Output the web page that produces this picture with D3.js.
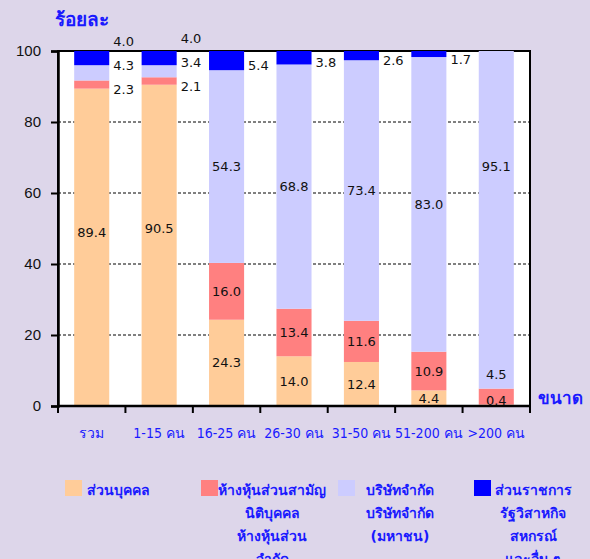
<!DOCTYPE html>
<html>
<head>
<meta charset="utf-8">
<title>ร้อยละ ตามขนาด</title>
<script src="https://cdn.jsdelivr.net/npm/d3@7"></script>
<style>
body { margin: 0; background: #ddd6ea; }
svg { display: block; font-family: Tahoma, "DejaVu Sans", "Noto Sans", sans-serif; }
.val { font-size: 13px; fill: #111; }
.thai { fill: #1a1aff; font-weight: bold; }
.axis text { font-size: 15px; fill: #111; }
.axis text.cl { fill: #1a1aff; font-weight: normal; font-size: 14px; font-family: "DejaVu Sans Condensed", "Noto Sans", sans-serif; }
</style>
</head>
<body>
<script>
// categories (size of establishment)
var categories = ["รวม", "1-15 คน", "16-25 คน", "26-30 คน", "31-50 คน", "51-200 คน", ">200 คน"];

// series values, percent
var personal   = [89.4, 90.5, 24.3, 14.0, 12.4, 4.4, 0.4];
var partnership = [2.3, 2.1, 16.0, 13.4, 11.6, 10.9, 4.5];
var company    = [4.3, 3.4, 54.3, 68.8, 73.4, 83.0, 95.1];
var government = [4.0, 4.0, 5.4, 3.8, 2.6, 1.7, 0];

var seriesNames = [
  ["ส่วนบุคคล"],
  ["ห้างหุ้นส่วนสามัญ", "นิติบุคคล", "ห้างหุ้นส่วน", "จำกัด"],
  ["บริษัทจำกัด", "บริษัทจำกัด", "(มหาชน)"],
  ["ส่วนราชการ", "รัฐวิสาหกิจ", "สหกรณ์", "และอื่น ๆ"]
];
var colors = ["#ffcc99", "#ff8080", "#ccccff", "#0000ff"];
var yTicks = [0, 20, 40, 60, 80, 100];

// a few labels were moved by hand in the original
var labelNudge = { "0-0": -15, "0-1": -17, "2-6": -53 };

var W = 590, H = 559;
var svg = d3.select("body").append("svg").attr("width", W).attr("height", H);

var x = d3.scaleBand().domain(categories).range([58, 530]).paddingInner(0.48).paddingOuter(0.24);
var y = d3.scaleLinear().domain([0, 100]).range([406, 51]);

// plot area
svg.append("rect").attr("x", 58).attr("y", 51).attr("width", 472).attr("height", 355)
  .attr("fill", "#fff").attr("stroke", "#000").attr("stroke-width", 2);

// dashed gridlines
svg.append("g").selectAll("line").data([20, 40, 60, 80]).join("line")
  .attr("x1", 58).attr("x2", 530).attr("y1", d => y(d)).attr("y2", d => y(d))
  .attr("stroke", "#000").attr("stroke-width", 1).attr("stroke-dasharray", "3,2");

var table = categories.map(function (c, i) {
  return { cat: c, s0: personal[i], s1: partnership[i], s2: company[i], s3: government[i] };
});
var stack = d3.stack().keys(["s0", "s1", "s2", "s3"])(table);

stack.forEach(function (layer, k) {
  svg.append("g").attr("fill", colors[k]).selectAll("rect").data(layer).join("rect")
    .attr("x", d => x(d.data.cat))
    .attr("width", x.bandwidth())
    .attr("y", d => y(d[1]))
    .attr("height", d => y(d[0]) - y(d[1]));
});

// axes
var yAxis = svg.append("g").attr("class", "axis").attr("transform", "translate(58,0)")
  .call(d3.axisLeft(y).tickValues(yTicks).tickSize(7).tickPadding(10));
var xAxis = svg.append("g").attr("class", "axis").attr("transform", "translate(0,406)");
xAxis.append("line").attr("x1", 58).attr("x2", 531).attr("stroke", "#000").attr("stroke-width", 2.5);
var bounds = categories.map(c => x(c) - x.step() * x.paddingInner() / 2);
bounds[0] = 58; bounds.push(530);
xAxis.selectAll(".tk").data(bounds).join("line").attr("class", "tk")
  .attr("x1", d => d).attr("x2", d => d).attr("y1", 0).attr("y2", 7)
  .attr("stroke", "#000").attr("stroke-width", 2);
yAxis.select(".domain").attr("stroke-width", 2.5);
yAxis.selectAll(".tick line").attr("stroke-width", 2);

xAxis.selectAll(".cl").data(categories).join("text").attr("class", "cl")
  .attr("x", d => x(d) + x.bandwidth() / 2).attr("y", 32)
  .attr("text-anchor", "middle").text(d => d);

// value labels
var labels = [];
categories.forEach(function (c, i) {
  var last = i === categories.length - 1;
  var outside = [];
  stack.forEach(function (layer, k) {
    var d = layer[i], v = d[1] - d[0];
    if (v <= 0) return;
    var cx = x(c) + x.bandwidth() / 2, cy = y((d[0] + d[1]) / 2);
    if (v < 6 && k > 0 && !last) {
      outside.push({ v: v, cy: cy + 5 });
    } else if (v < 6 && k > 0 && last) {
      labels.push({ v: v, x: cx, y: y(d[1]) - 14 });
    } else {
      labels.push({ v: v, x: cx, y: Math.min(cy, 400) + (labelNudge[k + "-" + i] || 0) });
    }
  });
  // spread right-hand labels so they do not overlap
  var prev = Infinity;
  outside.forEach(function (o) {
    var yy = Math.min(o.cy, prev - 24);
    prev = yy;
    labels.push({ v: o.v, x: x(c) + x.bandwidth() + 4, y: yy, left: true });
  });
});
svg.append("g").selectAll("text").data(labels).join("text").attr("class", "val")
  .attr("x", d => d.x).attr("y", d => d.y).attr("dy", "0.35em")
  .attr("text-anchor", d => d.left ? "start" : "middle")
  .text(d => d.v.toFixed(1));

svg.append("text").attr("class", "thai").attr("x", 55).attr("y", 26)
  .style("font-size", "19px").text("ร้อยละ");
svg.append("text").attr("class", "thai").attr("x", 538).attr("y", 404)
  .style("font-size", "17px").text("ขนาด");

// legend
var legX = [65, 201, 338, 474];
var legCx = [118, 272, 400, 533];
seriesNames.forEach(function (lines, k) {
  var g = svg.append("g");
  g.append("rect").attr("x", legX[k]).attr("y", 480).attr("width", 17).attr("height", 16).attr("fill", colors[k]);
  g.selectAll("text").data(lines).join("text").attr("class", "thai")
    .attr("x", legCx[k]).attr("y", (d, j) => 495 + j * 23)
    .attr("text-anchor", "middle").style("font-size", "14px").text(d => d);
});
</script>
</body>
</html>
